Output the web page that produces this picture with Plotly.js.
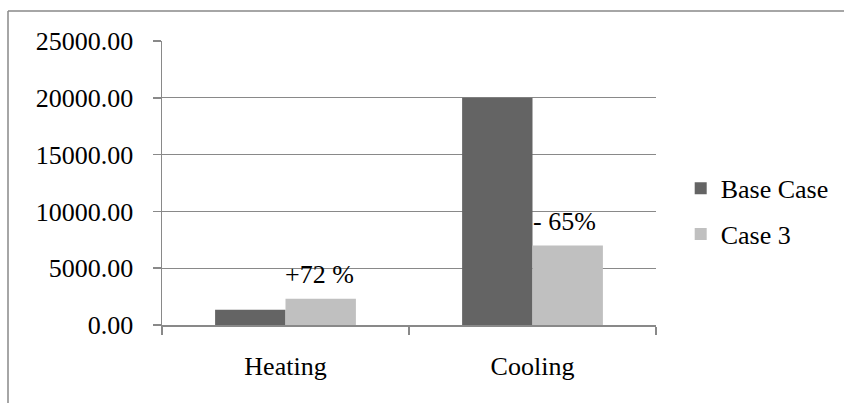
<!DOCTYPE html>
<html>
<head>
<meta charset="utf-8">
<script src="https://cdn.plot.ly/plotly-3.0.1.min.js"></script>
<style>
  html, body { margin: 0; padding: 0; background: #ffffff; }
  #chart { width: 844px; height: 403px; }
</style>
</head>
<body>
<div id="chart"></div>
<script>
// Energy demand by use, base case vs. case 3
const categories = ['Heating', 'Cooling'];
const seriesNames = ['Base Case', 'Case 3'];
const baseCase = [1350, 20000];
const case3 = [2320, 7000];
const changeLabels = ['+72 %', '- 65%'];
const yTicks = [0, 5000, 10000, 15000, 20000, 25000];
const yTickText = ['0.00', '5000.00', '10000.00', '15000.00', '20000.00', '25000.00'];

const W = 844, H = 403;
const M = { l: 162, r: 188, t: 41, b: 78, autoexpand: false };
const plotW = W - M.l - M.r, plotH = H - M.t - M.b;
const lineGrey = '#898989';
const serif = 'Liberation Serif';
const mkFont = () => ({ family: serif, size: 26, color: '#000000' });

// pixel -> paper helpers for the outer frame
const px = x => (x - M.l) / plotW;
const py = y => (H - M.b - y) / plotH;

const traces = [
  { type: 'bar', name: seriesNames[0], x: categories, y: baseCase,
    marker: { color: '#646464', line: { width: 0 } }, legendgroup: 'a', hoverinfo: 'skip' },
  { type: 'bar', name: seriesNames[1], x: categories, y: case3,
    marker: { color: '#c0c0c0', line: { width: 0 } }, legendgroup: 'b', hoverinfo: 'skip' }
];

const annotations = categories.map((c, i) => ({
  x: c, y: case3[i], xref: 'x', yref: 'y',
  text: changeLabels[i], showarrow: false,
  xanchor: 'center', yanchor: 'middle',
  xshift: i === 0 ? 34 : 32, yshift: 24,
  font: mkFont()
}));

const layout = {
  width: W, height: H,
  margin: M,
  paper_bgcolor: '#ffffff', plot_bgcolor: '#ffffff',
  font: mkFont(),
  barmode: 'group',
  bargap: 0.43, bargroupgap: 0,
  showlegend: true,
  legend: {
    x: 1.05, y: 0.40, xanchor: 'left', yanchor: 'middle',
    font: mkFont(), tracegroupgap: 9, traceorder: 'grouped',
    bgcolor: 'rgba(0,0,0,0)', itemclick: false
  },
  xaxis: {
    type: 'category', showgrid: false, zeroline: false,
    showline: true, linecolor: lineGrey, linewidth: 1.5,
    ticks: 'outside', tickson: 'boundaries', ticklen: 8, tickwidth: 1.5, tickcolor: lineGrey,
    ticklabelstandoff: 17, tickfont: mkFont(), fixedrange: true
  },
  yaxis: {
    range: [0, 25000], tickvals: yTicks, ticktext: yTickText,
    showgrid: true, gridcolor: lineGrey, gridwidth: 1.3,
    zeroline: false, showline: true, linecolor: lineGrey, linewidth: 1.5,
    ticks: 'outside', ticklen: 8, tickwidth: 1.5, tickcolor: lineGrey,
    ticklabelstandoff: 14, tickfont: mkFont(), fixedrange: true
  },
  annotations: annotations,
  shapes: [
    { type: 'line', xref: 'paper', yref: 'paper', x0: px(8), x1: px(W + 2), y0: py(11), y1: py(11),
      line: { color: lineGrey, width: 1.5 } },
    { type: 'line', xref: 'paper', yref: 'paper', x0: px(8), x1: px(8), y0: py(11), y1: py(H + 2),
      line: { color: lineGrey, width: 1.5 } }
  ]
};

Plotly.newPlot('chart', traces, layout, { staticPlot: true, displayModeBar: false });
</script>
</body>
</html>
